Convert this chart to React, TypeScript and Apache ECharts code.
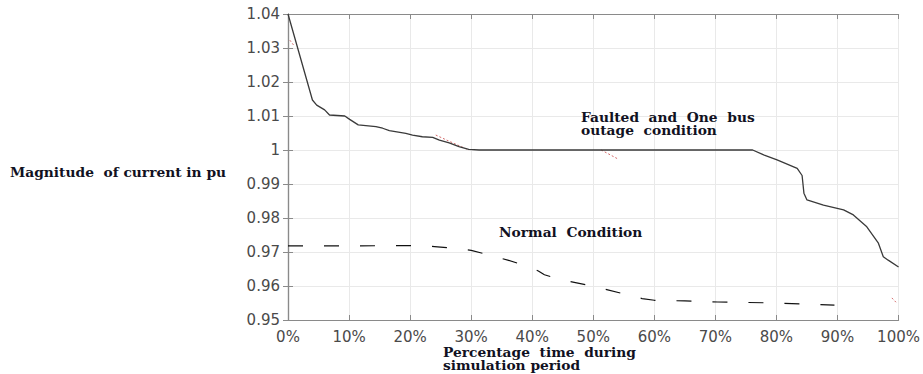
import React, { useEffect, useRef } from "react";
import * as echarts from "echarts";

const faultedX = [0, 4.0, 4.7, 6.0, 6.8, 9.3, 10.1, 11.5, 14.4, 15.5, 16.6, 19.3, 20.4, 22.0, 23.7, 24.8, 26.4, 28.0, 29.6, 31.3, 50, 76.1, 78.0, 80.1, 83.4, 84.2, 84.5, 85.0, 87.7, 91.0, 92.6, 94.8, 96.7, 97.5, 98.3, 100];
const faultedY = [1.04, 1.0147, 1.0132, 1.0118, 1.0103, 1.01, 1.009, 1.0074, 1.0069, 1.0064, 1.0057, 1.0049, 1.0044, 1.0039, 1.0037, 1.0029, 1.0021, 1.001, 1.0002, 1.0, 1.0, 1.0, 0.9985, 0.9971, 0.9946, 0.9925, 0.9873, 0.9853, 0.9838, 0.9824, 0.9809, 0.9774, 0.9726, 0.9686, 0.9676, 0.9656];

const normalX = [0, 10, 20, 24, 26, 28, 30, 33, 36, 39.4, 41, 42, 44.8, 50.3, 55.2, 58, 60, 65, 70.4, 80, 89.5];
const normalY = [0.9718, 0.9718, 0.9719, 0.9716, 0.9713, 0.9709, 0.9705, 0.9691, 0.9676, 0.9657, 0.9644, 0.9633, 0.9618, 0.9598, 0.9576, 0.9563, 0.9558, 0.9556, 0.9553, 0.955, 0.9544];

// faint red dotted trace (mostly hidden behind the others)
const redX: (number | null)[] = [0.3, 0.9, null, 24.2, 26.5, 29.6, null, 51.3, 54.1, null, 98.9, 99.7];
const redY: (number | null)[] = [1.0323, 1.0309, null, 1.0044, 1.0025, 1.0, null, 1.0, 0.9973, null, 0.9565, 0.955];

const yTickLabels = ["0.95", "0.96", "0.97", "0.98", "0.99", "1", "1.01", "1.02", "1.03", "1.04"];
const xTickLabels = ["0%", "10%", "20%", "30%", "40%", "50%", "60%", "70%", "80%", "90%", "100%"];

const yAxisTitle = "Magnitude  of current in pu";
const xAxisTitle = ["Percentage  time  during", "simulation period"];
const faultedLabel = ["Faulted  and  One  bus", "outage  condition"];
const normalLabel = "Normal  Condition";

const pair = (xs: (number | null)[], ys: (number | null)[]) =>
  xs.map((x, i) => (x === null || ys[i] === null ? [null, null] : [x, ys[i]]));

export default function App() {
  const ref = useRef<HTMLDivElement>(null);
  useEffect(() => {
    if (!ref.current) return;
    const chart = echarts.init(ref.current, undefined, { renderer: "svg" });
    const axisColor = "#8a8a8a";
    const tickFont = { fontFamily: "DejaVu Sans", fontSize: 15, color: "#4a4a4a" };
    const serif = "DejaVu Serif";
    const label = (text: string, x: number, y: number, sx: number) => ({
      type: "text",
      x,
      y,
      scaleX: sx,
      z: 10,
      style: {
        text,
        font: `bold 12px "${serif}"`,
        fill: "#111122",
        lineHeight: 13,
        textVerticalAlign: "top",
        textAlign: "left",
      },
    });
    chart.setOption({
      animation: false,
      backgroundColor: "#ffffff",
      grid: { left: 288, right: 21, top: 14, bottom: 54, containLabel: false },
      xAxis: [
        {
          type: "value",
          min: 0,
          max: 100,
          interval: 10,
          position: "bottom",
          axisLine: { show: true, lineStyle: { color: axisColor, width: 1.2 } },
          axisTick: { show: true, inside: true, length: 5, lineStyle: { color: axisColor } },
          axisLabel: {
            ...tickFont,
            margin: 9,
            formatter: (v: number) => xTickLabels[Math.round(v / 10)] ?? "",
          },
          splitLine: { show: true, lineStyle: { color: "#e9e9e9", width: 1 } },
        },
        {
          type: "value",
          min: 0,
          max: 100,
          interval: 10,
          position: "top",
          axisLine: { show: true, lineStyle: { color: axisColor, width: 1.2 } },
          axisTick: { show: true, inside: true, length: 5, lineStyle: { color: axisColor } },
          axisLabel: { show: false },
          splitLine: { show: false },
        },
      ],
      yAxis: [
        {
          type: "value",
          min: 0.95,
          max: 1.04,
          interval: 0.01,
          position: "left",
          axisLine: { show: true, lineStyle: { color: axisColor, width: 1.2 } },
          axisTick: { show: true, inside: true, length: 5, lineStyle: { color: axisColor } },
          axisLabel: {
            ...tickFont,
            margin: 8,
            formatter: (v: number) => yTickLabels[Math.round((v - 0.95) / 0.01)] ?? "",
          },
          splitLine: { show: true, lineStyle: { color: "#e9e9e9", width: 1 } },
        },
        {
          type: "value",
          min: 0.95,
          max: 1.04,
          interval: 0.01,
          position: "right",
          axisLine: { show: true, lineStyle: { color: axisColor, width: 1.2 } },
          axisTick: { show: true, inside: true, length: 5, lineStyle: { color: axisColor } },
          axisLabel: { show: false },
          splitLine: { show: false },
        },
      ],
      series: [
        {
          type: "line",
          name: "red",
          data: pair(redX, redY),
          showSymbol: false,
          connectNulls: false,
          lineStyle: { color: "#d46a6a", width: 1, type: [2, 2] },
          z: 1,
        },
        {
          type: "line",
          name: "Faulted",
          data: pair(faultedX, faultedY),
          showSymbol: false,
          lineStyle: { color: "#3a3a3a", width: 1.3 },
          z: 3,
        },
        {
          type: "line",
          name: "Normal",
          data: pair(normalX, normalY),
          showSymbol: false,
          lineStyle: { color: "#111111", width: 1.2, type: [15, 21] },
          z: 3,
        },
      ],
      graphic: [
        label(yAxisTitle, 10, 166, 1.15),
        label(xAxisTitle.join("\n"), 443, 346, 1.15),
        label(faultedLabel.join("\n"), 581, 111, 1.15),
        label(normalLabel, 499, 226, 1.15),
      ],
    });
    return () => chart.dispose();
  }, []);
  return (
    <div
      ref={ref}
      style={{ position: "fixed", left: 0, top: 0, width: 923, height: 374, background: "#fff" }}
    />
  );
}
